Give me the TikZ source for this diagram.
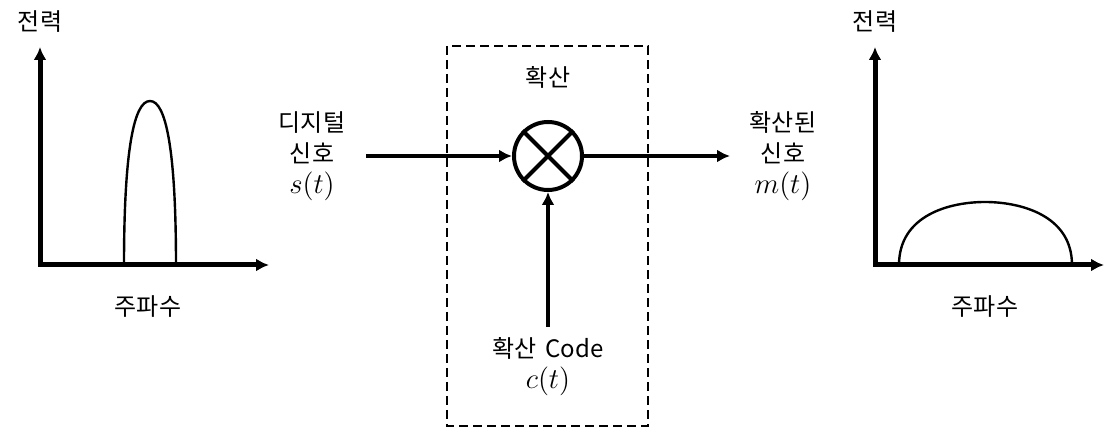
\documentclass[tikz,border=0pt]{standalone}
\usepackage{fontspec}
\setmainfont{Noto Sans CJK KR}
\usetikzlibrary{arrows.meta,positioning}

\newcommand{\sigm}[1]{{\fontsize{13.5pt}{15.5pt}\selectfont$#1$}}

\begin{document}
\begin{tikzpicture}[
x=0.5pt,
y=-0.5pt,
txt/.style={
  font=\fontsize{12pt}{15.5pt}\selectfont,
  align=center,
  inner sep=0pt
  },
axis/.style={
  line width=2.5pt,
  <->
  },
flow/.style={
  line width=2pt,
  ->
  },
spectrum/.style={
  line width=1.2pt
  },
mixer/.style={
  draw,
  circle,
  line width=2pt,
  minimum size=34pt,
  inner sep=0pt
  },
stage/.style={
  draw,
  line width=1pt,
  dash pattern=on 4.5pt off 2.5pt
  },
>={Latex[length=6.5pt,width=6.5pt]}
]
\useasboundingbox (0,0) rectangle (1120,437);

% left spectrum
\coordinate (ytop-l) at (40,47);
\coordinate (xend-l) at (269,265);
\draw[axis] (ytop-l) |- (xend-l);
\node[txt] (pwr-l) at (40,22) {전력};
\node[txt] (frq-l) at (148,307) {주파수};
\draw[spectrum] (124,265) .. controls (124,150) and (134,101) .. (150,101)
  .. controls (166,101) and (176,150) .. (176,265);

% spreading stage
\draw[stage] (447,46) rectangle (648,426);
\node[txt] (stage) at (548,77) {확산};
\node[mixer] (mix) at (548,156) {};
\draw[line width=2pt] (mix.north west) -- (mix.south east);
\draw[line width=2pt] (mix.south west) -- (mix.north east);

\node[txt] (sig-in) at (312,156) {디지털\\신호\\\sigm{s(t)}};
\node[txt] (sig-out) at (783,156) {확산된\\신호\\\sigm{m(t)}};
\node[txt] (code) at (548,367) {확산\hspace{0.35em}Code\\\sigm{c(t)}};

\coordinate (in-start) at (366,156);
\coordinate (out-end) at (730,156);
\coordinate (code-top) at (548,327);
\draw[flow] (in-start) -- (mix.west);
\draw[flow] (mix.east) -- (out-end);
\draw[flow] (code-top) -- (mix.south);

% right spectrum
\coordinate (ytop-r) at (875,47);
\coordinate (xend-r) at (1104,265);
\draw[axis] (ytop-r) |- (xend-r);
\node[txt] (pwr-r) at (875,22) {전력};
\node[txt] (frq-r) at (985,307) {주파수};
\draw[spectrum] (899,265) .. controls (899,215) and (950,202) .. (985,202)
  .. controls (1020,202) and (1072,215) .. (1072,265);

\end{tikzpicture}
\end{document}
